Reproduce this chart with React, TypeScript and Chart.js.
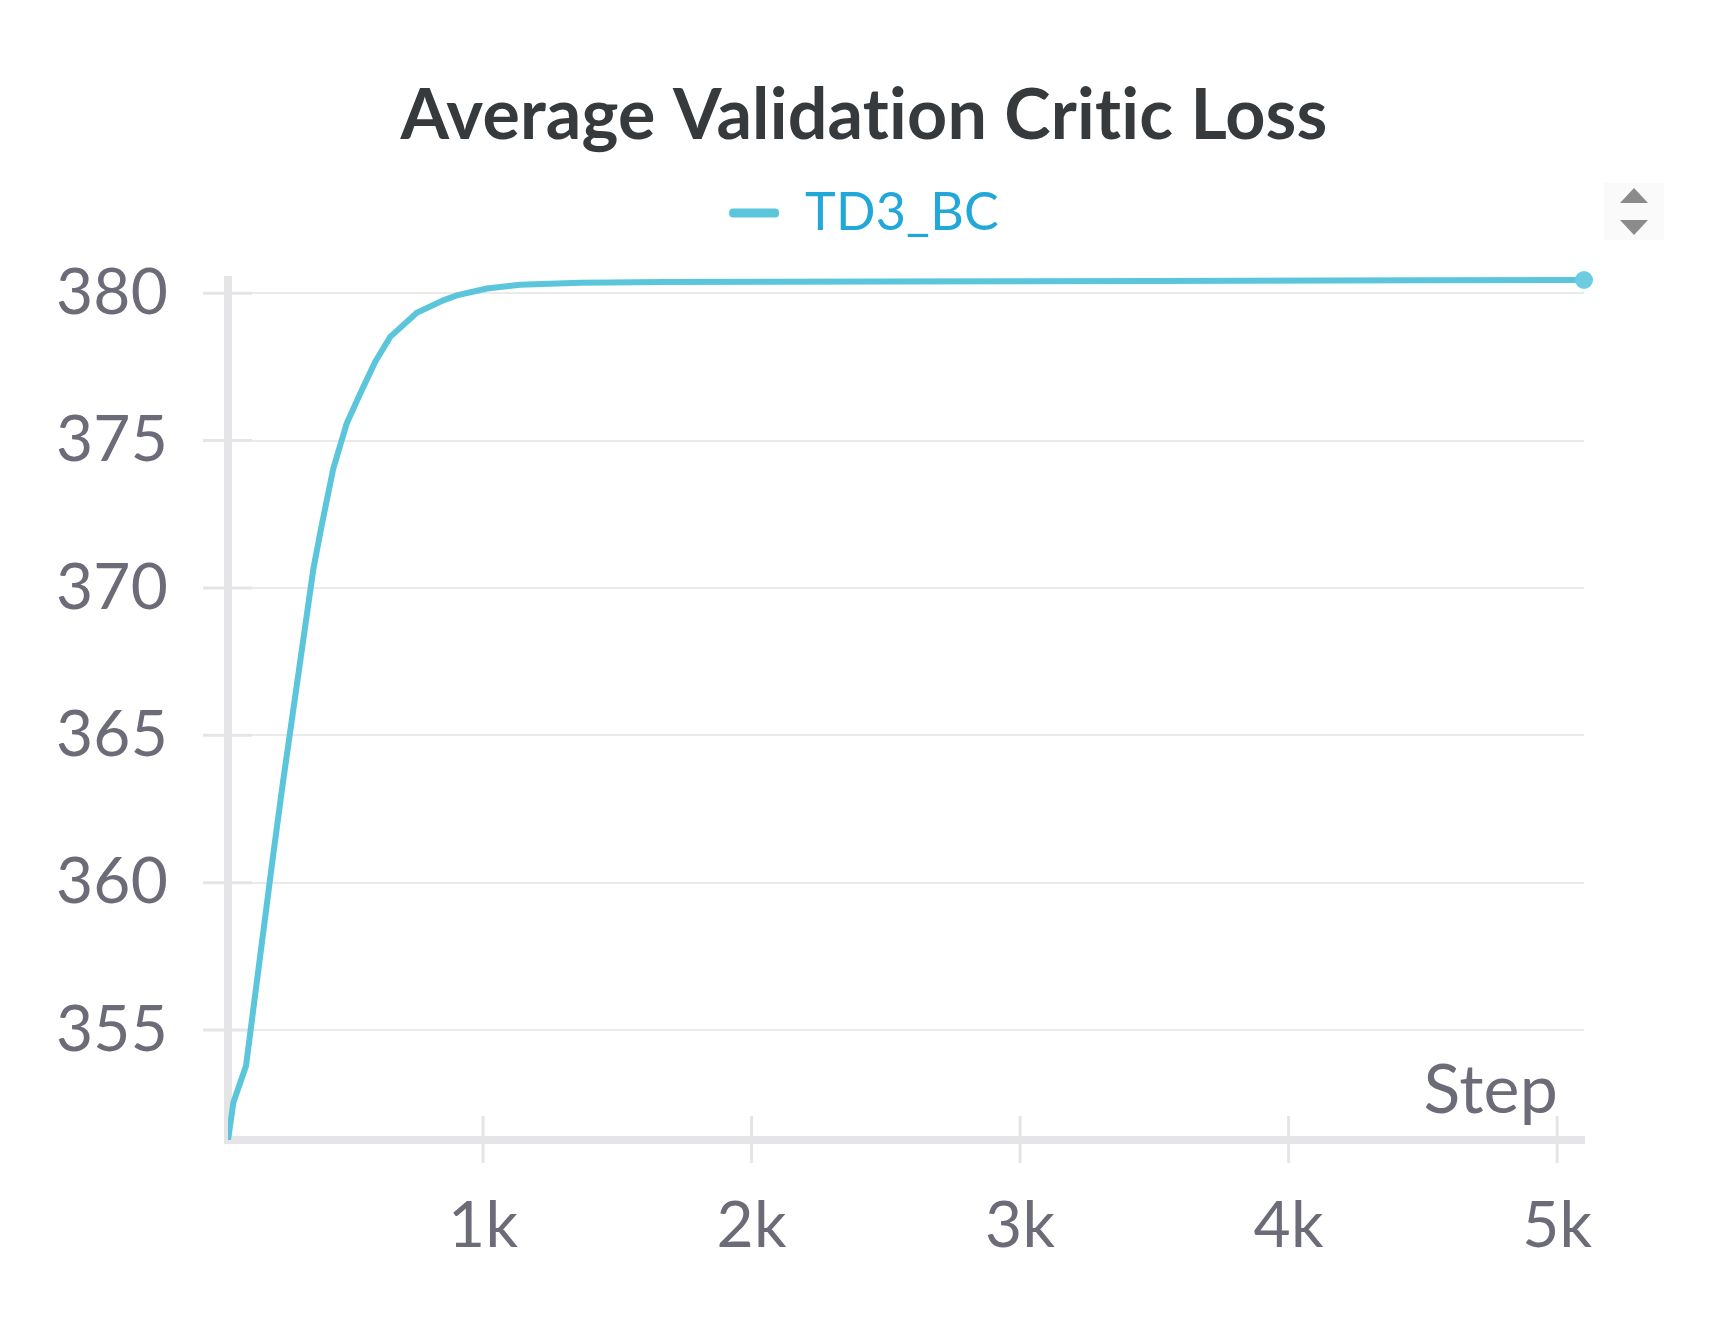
import React, { useEffect, useRef } from 'react';
import { Chart, registerables } from 'chart.js';

Chart.register(...registerables);

const TITLE = 'Average Validation Critic Loss';
const SERIES_LABEL = 'TD3_BC';
const X_TITLE = 'Step';

const steps = [50, 70, 117, 217, 253, 368, 399, 442, 492, 542, 598, 654, 753, 852, 902, 1014, 1138, 1361, 1678, 2500, 3500, 4500, 5100];
const values = [351.27, 352.54, 353.78, 360.85, 363.3, 370.65, 372.13, 374.05, 375.58, 376.59, 377.67, 378.52, 379.34, 379.76, 379.93, 380.16, 380.29, 380.36, 380.38, 380.4, 380.42, 380.44, 380.45];

const xTicks = [1000, 2000, 3000, 4000, 5000];
const yTicks = [355, 360, 365, 370, 375, 380];

const LINE = '#5bc5db';
const DOT = '#6ccde2';
const AXIS = '#e5e5e8';
const GRID = '#eaeaea';
const TICK_TEXT = '#6b6c78';
const TITLE_TEXT = '#363a3d';
const LEGEND_TEXT = '#21a8d8';

const noLigatures = {
  id: 'noLigatures',
  beforeDraw(chart: any) {
    try {
      chart.ctx.letterSpacing = '0.2px';
    } catch (e) {
      /* ignore */
    }
  },
};

const tickMarks = {
  id: 'tickMarks',
  beforeDatasetsDraw(chart: any) {
    const { ctx, chartArea, scales } = chart;
    ctx.save();
    ctx.strokeStyle = AXIS;
    ctx.lineWidth = 3;
    scales.y.ticks.forEach((t: any) => {
      const py = scales.y.getPixelForValue(t.value);
      ctx.beginPath();
      ctx.moveTo(chartArea.left - 25, py);
      ctx.lineTo(chartArea.left + 24, py);
      ctx.stroke();
    });
    scales.x.ticks.forEach((t: any) => {
      const px = scales.x.getPixelForValue(t.value);
      ctx.beginPath();
      ctx.moveTo(px, chartArea.bottom - 24);
      ctx.lineTo(px, chartArea.bottom + 23);
      ctx.stroke();
    });
    ctx.restore();
  },
};

const stepLabel = {
  id: 'stepLabel',
  afterDatasetsDraw(chart: any) {
    const { ctx, chartArea } = chart;
    ctx.save();
    ctx.font = '68px Lato';
    ctx.fillStyle = TICK_TEXT;
    ctx.textAlign = 'right';
    ctx.textBaseline = 'alphabetic';
    ctx.fillText(X_TITLE, chartArea.right - 26, chartArea.bottom - 27);
    ctx.restore();
  },
};

const pager = {
  id: 'pager',
  afterDraw(chart: any) {
    const { ctx, chartArea } = chart;
    const cx = chartArea.right + 50;
    const t = chartArea.top;
    ctx.save();
    ctx.fillStyle = '#fafafa';
    ctx.fillRect(chartArea.right + 20, t - 97, 60, 57);
    ctx.fillStyle = '#8b8b8b';
    ctx.beginPath();
    ctx.moveTo(cx, t - 92);
    ctx.lineTo(cx + 14, t - 77);
    ctx.lineTo(cx - 14, t - 77);
    ctx.closePath();
    ctx.fill();
    ctx.beginPath();
    ctx.moveTo(cx - 14, t - 60);
    ctx.lineTo(cx + 14, t - 60);
    ctx.lineTo(cx, t - 45);
    ctx.closePath();
    ctx.fill();
    ctx.restore();
  },
};

export default function App() {
  const ref = useRef<HTMLCanvasElement | null>(null);

  useEffect(() => {
    if (!ref.current) return;
    Chart.defaults.font.family = 'Lato';
    const last = values.length - 1;
    const chart = new Chart(ref.current, {
      type: 'line',
      data: {
        labels: steps,
        datasets: [
          {
            label: SERIES_LABEL,
            data: steps.map((s, i) => ({ x: s, y: values[i] })),
            borderColor: LINE,
            backgroundColor: LINE,
            borderWidth: 6,
            tension: 0,
            pointRadius: (c: any) => (c.dataIndex === last ? 9 : 0),
            pointHoverRadius: 0,
            pointBackgroundColor: DOT,
            pointBorderWidth: 0,
            xAxisID: 'x',
            yAxisID: 'y',
            clip: { left: 0, bottom: 0, top: 15, right: 15 } as any,
          },
        ],
      },
      options: {
        animation: false,
        responsive: true,
        maintainAspectRatio: false,
        events: [],
        layout: { padding: 0 },
        plugins: {
          title: {
            display: true,
            text: TITLE,
            color: TITLE_TEXT,
            font: { family: 'Lato', size: 70, weight: 'bold', lineHeight: 1.2 },
            padding: { top: 66, bottom: 10 },
          },
          legend: {
            display: true,
            labels: {
              boxWidth: 50,
              boxHeight: 9,
              padding: 19,
              color: LEGEND_TEXT,
              font: { family: 'Lato', size: 52 },
              useBorderRadius: true,
              borderRadius: 4,
              generateLabels: (ch: any) =>
                (Chart.defaults.plugins.legend.labels.generateLabels as any)(ch).map((it: any) => ({
                  ...it,
                  fillStyle: LINE,
                  strokeStyle: LINE,
                  lineWidth: 0,
                  fontColor: LEGEND_TEXT,
                })),
            },
          },
          tooltip: { enabled: false },
        },
        scales: {
          x: {
            type: 'linear',
            position: 'bottom',
            min: steps[0],
            max: steps[last],
            afterBuildTicks: (s: any) => {
              s.ticks = xTicks.map((v) => ({ value: v }));
            },
            afterFit: (s: any) => {
              s.height = 178;
            },
            grid: { display: false, drawTicks: false },
            border: { display: true, color: AXIS, width: 8 },
            ticks: {
              padding: 48,
              color: TICK_TEXT,
              font: { family: 'Lato', size: 64 },
              maxRotation: 0,
              autoSkip: false,
              callback: (v: any) => `${Number(v) / 1000}k`,
            },
          },
          spacerTop: {
            type: 'linear',
            position: 'top',
            display: true,
            afterFit: (s: any) => {
              s.height = 31;
            },
            grid: { display: false, drawTicks: false },
            border: { display: false },
            ticks: { display: false },
          },
          spacerRight: {
            type: 'linear',
            position: 'right',
            display: true,
            afterFit: (s: any) => {
              s.width = 136;
            },
            grid: { display: false, drawTicks: false },
            border: { display: false },
            ticks: { display: false },
          },
          y: {
            type: 'linear',
            position: 'left',
            min: Math.min(...values),
            max: Math.max(...values),
            afterBuildTicks: (s: any) => {
              s.ticks = yTicks.map((v) => ({ value: v }));
            },
            afterFit: (s: any) => {
              s.width = 220;
            },
            grid: { color: GRID, lineWidth: 2, drawTicks: false },
            border: { display: true, color: AXIS, width: 8 },
            ticks: {
              padding: 60,
              color: TICK_TEXT,
              font: { family: 'Lato', size: 64 },
              autoSkip: false,
            },
          },
        },
      },
      plugins: [noLigatures, tickMarks, stepLabel, pager],
    });
    const fonts: any = (document as any).fonts;
    if (fonts && fonts.ready) fonts.ready.then(() => chart.update());
    return () => chart.destroy();
  }, []);

  return (
    <div style={{ position: 'relative', width: 1712, height: 1310 }}>
      <canvas ref={ref} />
    </div>
  );
}
